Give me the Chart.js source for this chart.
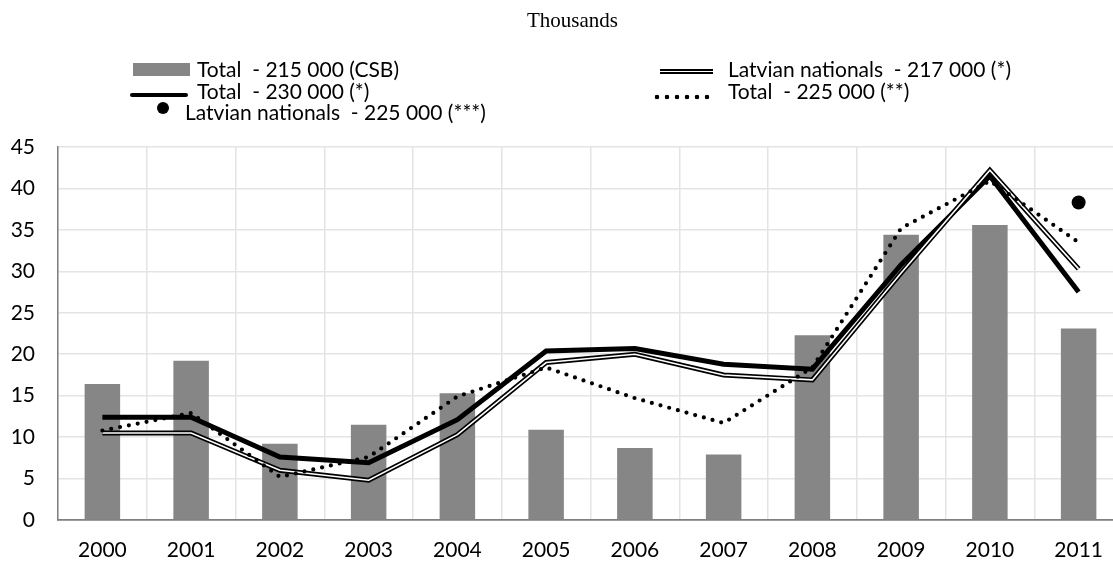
<!DOCTYPE html>
<html>
<head>
<meta charset="utf-8">
<script src="https://cdn.jsdelivr.net/npm/chart.js@4"></script>
<style>
html,body{margin:0;padding:0;background:#fff;overflow:hidden;}
#wrap{position:absolute;left:0;top:0;width:1130px;height:562px;}
#title{position:absolute;top:8px;left:0;width:1145px;text-align:center;font-family:"Liberation Serif",serif;font-size:21px;color:#000;}
.lg{position:absolute;font-family:Lato,sans-serif;font-size:21px;color:#000;white-space:pre;line-height:22px;}
.sw{position:absolute;}
</style>
</head>
<body>
<div id="wrap"><canvas id="chart"></canvas></div>
<div id="title">Thousands</div>

<div class="sw" style="left:133px;top:63px;width:57px;height:13px;background:#868686"></div>
<div class="lg" style="left:197px;top:58px">Total  - 215 000 (CSB)</div>

<div class="sw" style="left:130px;top:93px;width:58px;height:4px;background:#000;border-radius:2px"></div>
<div class="lg" style="left:197px;top:80px">Total  - 230 000 (*)</div>

<div class="sw" style="left:157px;top:102px;width:12px;height:12px;background:#000;border-radius:50%"></div>
<div class="lg" style="left:185px;top:101px">Latvian nationals  - 225 000 (***)</div>

<div class="sw" style="left:660px;top:69px;width:53px;height:1px;background:#fff;border-top:2px solid #000;border-bottom:2px solid #000"></div>
<div class="lg" style="left:728px;top:58px">Latvian nationals  - 217 000 (*)</div>

<div class="sw" style="left:652px;top:94px;width:62px;height:6px;background:radial-gradient(circle,#000 2px,transparent 2.6px);background-size:10px 6px"></div>
<div class="lg" style="left:728px;top:80px">Total  - 225 000 (**)</div>

<script>
// values in thousands
const years = ['2000','2001','2002','2003','2004','2005','2006','2007','2008','2009','2010','2011'];
const totalCSB = [16.4, 19.2, 9.2, 11.5, 15.3, 10.9, 8.7, 7.9, 22.3, 34.4, 35.6, 23.1];
const total230 = [12.4, 12.4, 7.6, 6.9, 12.1, 20.4, 20.7, 18.8, 18.2, 30.8, 41.5, 27.5];
const latvian217 = [10.5, 10.5, 6.0, 4.8, 10.3, 19.0, 20.0, 17.5, 16.9, 29.8, 42.2, 30.3];
const total225 = [10.8, 12.9, 5.2, 7.6, 14.9, 18.4, 14.7, 11.7, 18.4, 35.2, 40.9, 33.5];
const latvian225 = [null, null, null, null, null, null, null, null, null, null, null, 38.3];
const yTicks = [0, 5, 10, 15, 20, 25, 30, 35, 40, 45];

const FONT = 'Lato';

let ctx = document.getElementById('chart');

new Chart(ctx, {
  type: 'bar',
  data: {
    labels: years,
    datasets: [
      {
        type: 'line',
        label: 'Latvian nationals - 225 000 (***)',
        data: latvian225,
        showLine: false,
        pointRadius: 7,
        pointBackgroundColor: '#000',
        pointBorderWidth: 0,
        order: 0
      },
      {
        type: 'line',
        label: 'Total - 225 000 (**)',
        data: total225,
        borderColor: '#000',
        borderWidth: 4.2,
        borderDash: [0, 9],
        borderCapStyle: 'round',
        pointRadius: 0,
        tension: 0,
        order: 1
      },
      {
        type: 'line',
        label: 'Latvian nationals - 217 000 (*) inner',
        data: latvian217,
        borderColor: '#fff',
        borderWidth: 1.6,
        pointRadius: 0,
        tension: 0,
        order: 2
      },
      {
        type: 'line',
        label: 'Latvian nationals - 217 000 (*)',
        data: latvian217,
        borderColor: '#000',
        borderWidth: 5,
        pointRadius: 0,
        tension: 0,
        order: 3
      },
      {
        type: 'line',
        label: 'Total - 230 000 (*)',
        data: total230,
        borderColor: '#000',
        borderWidth: 5,
        pointRadius: 0,
        tension: 0,
        order: 4
      },
      {
        label: 'Total - 215 000 (CSB)',
        data: totalCSB,
        backgroundColor: '#868686',
        barPercentage: 0.4,
        categoryPercentage: 1,
        order: 5
      }
    ]
  },
  options: {
    responsive: true,
    maintainAspectRatio: false,
    animation: false,
    layout: { padding: { top: 147, left: 0, right: 4, bottom: 0 } },
    plugins: {
      legend: { display: false },
      tooltip: { enabled: false }
    },
    scales: {
      x: {
        offset: true,
        grid: { color: '#e4e4e4', lineWidth: 1.5, offset: true, drawTicks: false },
        border: { color: '#808080', width: 1.8 },
        ticks: { color: '#000', font: { family: FONT, size: 21 }, padding: 18, maxRotation: 0 },
        afterFit: function(axis){ axis.height = 42; }
      },
      y: {
        min: 0,
        max: 45,
        afterBuildTicks: function(axis){ axis.ticks = yTicks.map(v => ({ value: v })); },
        grid: { color: '#e4e4e4', lineWidth: 1.5, drawTicks: false },
        border: { color: '#808080', width: 1.5 },
        ticks: { color: '#000', font: { family: FONT, size: 21 }, padding: 23 },
        afterFit: function(axis){ axis.width = 58; }
      }
    }
  }
});
</script>
</body>
</html>
